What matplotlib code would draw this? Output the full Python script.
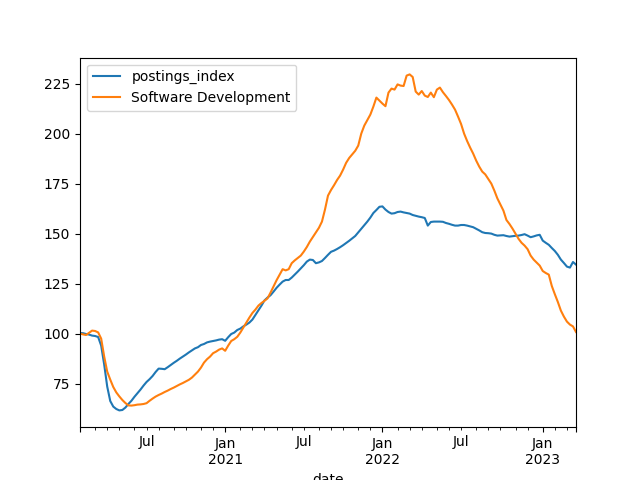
import matplotlib
matplotlib.use("Agg")
import matplotlib.pyplot as plt
import pandas as pd

# weekly readings, starting 2020-02-01
dates = pd.date_range("2020-02-01", periods=165, freq="W-SAT")

postings_index = [
    100.3, 100.2, 99.8, 99.5, 99.0, 98.8, 98.3, 94.0, 84.5, 73.5,
    66.3, 63.5, 62.3, 61.6, 61.8, 63.0, 64.8, 66.4, 68.4, 70.2,
    72.0, 74.0, 75.8, 77.2, 78.8, 80.8, 82.5, 82.4, 82.2, 83.2,
    84.3, 85.4, 86.4, 87.5, 88.5, 89.5, 90.6, 91.6, 92.6, 93.2,
    94.3, 94.8, 95.6, 96.0, 96.3, 96.6, 97.0, 97.2, 96.4, 98.2,
    99.8, 100.5, 101.8, 102.5, 103.6, 104.5, 105.5, 107.0, 109.3, 111.6,
    114.0, 116.6, 118.0, 119.2, 121.0, 122.9, 124.5, 126.0, 126.8, 126.8,
    128.0, 129.5, 131.0, 132.6, 134.2, 136.0, 137.0, 136.8, 135.2, 135.6,
    136.3, 137.8, 139.4, 140.9, 141.5, 142.3, 143.2, 144.2, 145.3, 146.4,
    147.6, 148.8, 150.6, 152.4, 154.2, 156.0, 158.0, 160.3, 161.8, 163.4,
    163.6, 162.0, 160.8, 160.0, 160.2, 160.8, 161.0, 160.6, 160.3, 160.0,
    159.3, 158.9, 158.5, 158.2, 157.8, 154.0, 155.8, 156.0, 156.0, 156.0,
    155.9, 155.3, 154.9, 154.4, 154.0, 154.0, 154.3, 154.3, 154.0, 153.6,
    153.2, 152.4, 151.6, 150.7, 150.3, 150.2, 150.0, 149.4, 149.0, 149.1,
    149.2, 148.8, 148.5, 148.7, 148.9, 149.0, 149.3, 149.7, 149.0, 148.2,
    148.6, 149.1, 149.4, 146.5, 145.4, 144.4, 142.8, 141.3, 139.4, 137.0,
    135.3, 133.5, 133.0, 135.8, 134.5,
]

software_dev = [
    100.0, 99.6, 99.3, 100.4, 101.5, 101.3, 100.6, 97.5, 88.5, 81.0,
    77.0, 73.3, 70.6, 68.6, 66.8, 65.3, 64.1, 64.0, 64.2, 64.5,
    64.6, 64.8, 65.2, 66.4, 67.5, 68.5, 69.3, 70.0, 70.8, 71.5,
    72.3, 73.0, 73.8, 74.6, 75.3, 76.1, 76.9, 78.0, 79.5, 81.0,
    83.0, 85.5, 87.2, 88.5, 90.2, 91.0, 92.0, 92.6, 91.4, 94.0,
    96.3, 97.2, 98.4, 100.5, 103.0, 105.4, 108.0, 110.3, 112.0, 114.0,
    115.3, 116.4, 117.6, 120.5, 123.6, 126.7, 129.5, 132.2, 131.6, 132.2,
    135.2, 136.6, 137.8, 139.0, 141.0, 143.3, 146.0, 148.3, 150.5, 152.9,
    156.0, 162.0, 169.0, 171.8, 174.2, 176.8, 179.0, 182.0, 185.4, 187.8,
    189.6, 191.4, 194.0, 200.0, 204.0, 206.8, 209.5, 213.5, 218.0, 216.5,
    215.0, 213.7, 220.5, 222.5, 222.0, 224.6, 224.0, 223.8, 229.0, 229.6,
    228.3, 221.0, 219.5, 221.3, 219.0, 218.3, 220.5, 218.2, 222.0, 223.0,
    220.7, 218.8, 216.8, 214.5, 212.0, 208.5, 204.8, 200.0, 196.3, 193.0,
    190.0, 186.5, 183.5, 181.0, 179.6, 177.3, 175.0, 171.5, 167.6, 164.5,
    161.5, 156.8, 154.8, 152.5, 150.0, 147.4, 145.4, 144.0, 142.2, 139.0,
    137.0, 135.5, 134.0, 131.3, 130.3, 129.5, 123.8, 119.7, 115.8, 111.5,
    108.5, 106.0, 104.5, 103.6, 100.8,
]

df = pd.DataFrame({"postings_index": postings_index,
                   "Software Development": software_dev},
                  index=pd.Index(dates, name="date"))

ax = df.plot()
plt.savefig("out.png")
